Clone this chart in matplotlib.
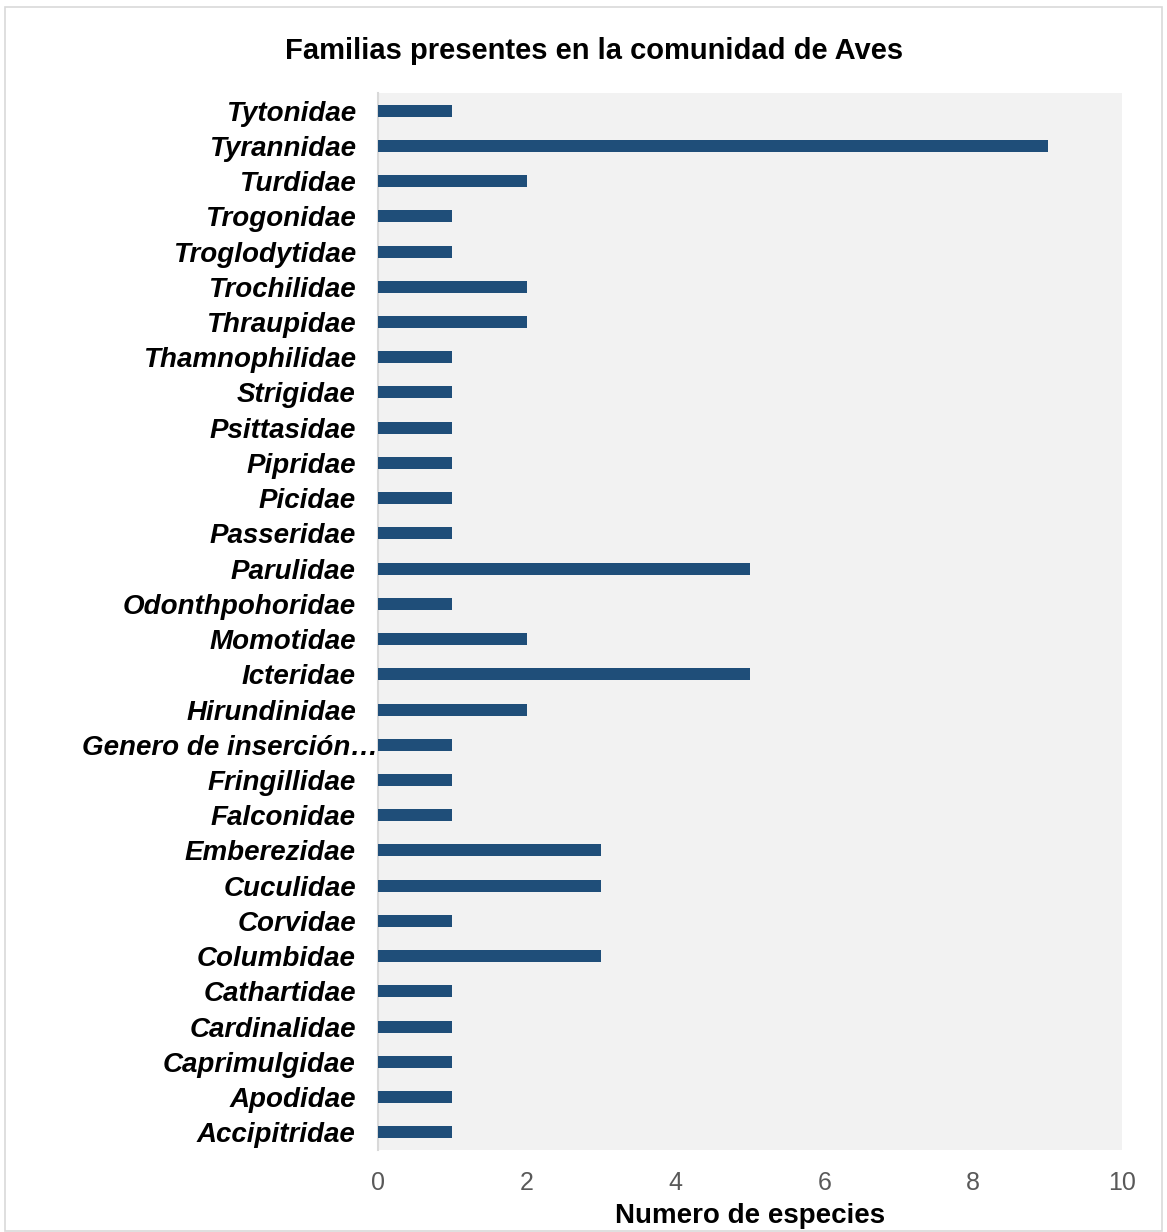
import numpy as np
import matplotlib.pyplot as plt
import matplotlib.transforms as mtransforms
from matplotlib.patches import Rectangle

# Data (bottom to top)
familias = ["Accipitridae", "Apodidae", "Caprimulgidae", "Cardinalidae", "Cathartidae",
            "Columbidae", "Corvidae", "Cuculidae", "Emberezidae", "Falconidae",
            "Fringillidae", "Genero de inserción…", "Hirundinidae", "Icteridae", "Momotidae",
            "Odonthpohoridae", "Parulidae", "Passeridae", "Picidae", "Pipridae",
            "Psittasidae", "Strigidae", "Thamnophilidae", "Thraupidae", "Trochilidae",
            "Troglodytidae", "Trogonidae", "Turdidae", "Tyrannidae", "Tytonidae"]
especies = [1, 1, 1, 1, 1,
            3, 1, 3, 3, 1,
            1, 1, 2, 5, 2,
            1, 5, 1, 1, 1,
            1, 1, 1, 2, 2,
            1, 1, 2, 9, 1]
xticks = [0, 2, 4, 6, 8, 10]

fig = plt.figure(figsize=(11.67, 12.32), dpi=100)
ax = fig.add_axes([0.3239, 0.0666, 0.6375, 0.8579])

y = np.arange(len(familias))
ax.barh(y, especies, height=0.34, color="#1F4E79", zorder=3)
ax.set_facecolor("#F2F2F2")
ax.set_xlim(0, 10)
ax.set_ylim(-0.5, len(familias) - 0.5)

ax.set_yticks(y)
ax.set_yticklabels(familias, fontsize=20, fontweight="bold", fontstyle="italic",
                   family="Liberation Sans")
ax.set_xticks(xticks)
ax.set_xticklabels([str(t) for t in xticks], fontsize=18, color="#595959",
                   family="Liberation Sans")
ax.tick_params(axis="y", length=0, pad=16)
ax.tick_params(axis="x", length=0, pad=15)

# the long truncated label runs up to the axis
lbl = ax.get_yticklabels()[familias.index("Genero de inserción…")]
lbl.set_transform(lbl.get_transform() + mtransforms.ScaledTranslation(0.22, 0, fig.dpi_scale_trans))

for s in ["top", "right", "bottom"]:
    ax.spines[s].set_visible(False)
ax.spines["left"].set_color("#D9D9D9")
ax.spines["left"].set_linewidth(1.5)

ax.set_xlabel("Numero de especies", fontsize=20, fontweight="bold",
              family="Liberation Sans", labelpad=6)
fig.text(0.509, 0.959, "Familias presentes en la comunidad de Aves", ha="center", va="center",
         fontsize=21, fontweight="bold", family="Liberation Sans")

# figure border
fig.patches.append(Rectangle((0.004, 0.001), 0.992, 0.993, transform=fig.transFigure,
                             fill=False, edgecolor="#D9D9D9", linewidth=1.2))

fig.savefig("out.png", dpi=100)
